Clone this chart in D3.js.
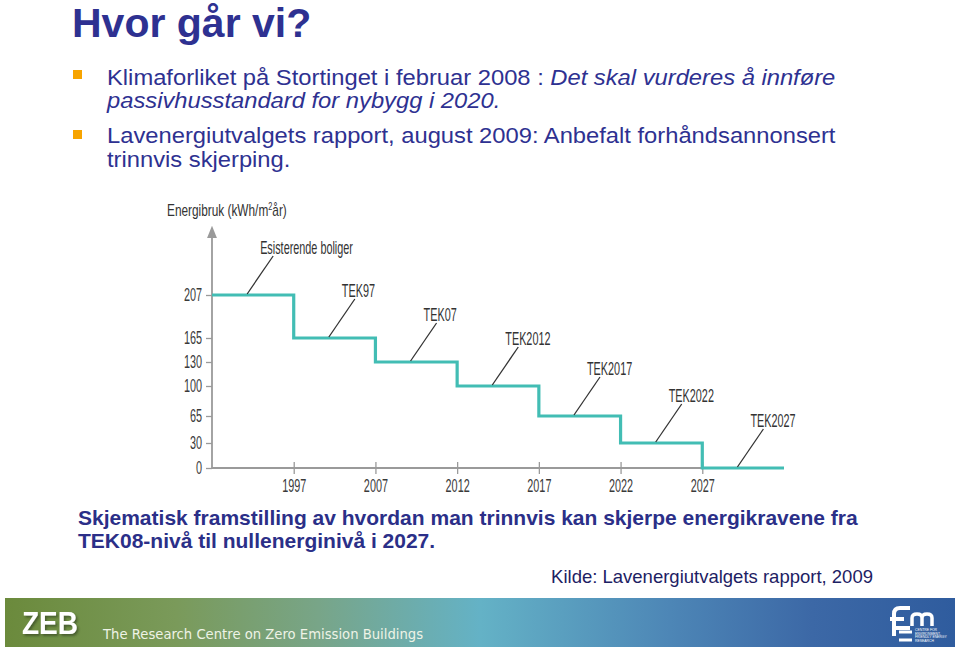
<!DOCTYPE html>
<html><head><meta charset="utf-8">
<script src="https://cdn.jsdelivr.net/npm/d3@7"></script>
<style>
html,body{margin:0;padding:0;background:#fff;}
svg{display:block;}
</style></head>
<body>
<svg id="c" width="959" height="650"></svg>
<script>
// ---- data ----
const periods = ["start", "1997", "2007", "2012", "2017", "2022", "2027", "end"];
const yearTicks = ["1997", "2007", "2012", "2017", "2022", "2027"];
const levels = [207, 165, 130, 100, 65, 30, 0];
const stepLabels = ["Esisterende boliger", "TEK97", "TEK07", "TEK2012", "TEK2017", "TEK2022", "TEK2027"];
const yTicks = [0, 30, 65, 100, 130, 165, 207];

const title = "Hvor går vi?";
const bullets = [
  [[{t:"Klimaforliket på Stortinget i februar 2008 : ", i:false},{t:"Det skal vurderes å innføre", i:true}],
   [{t:"passivhusstandard for nybygg i 2020.", i:true}]],
  [[{t:"Lavenergiutvalgets rapport, august 2009: Anbefalt forhåndsannonsert", i:false}],
   [{t:"trinnvis skjerping.", i:false}]]
];
const caption = ["Skjematisk framstilling av hvordan man trinnvis kan skjerpe energikravene fra",
                 "TEK08-nivå til nullenerginivå i 2027."];
const source = "Kilde: Lavenergiutvalgets rapport, 2009";

const svg = d3.select("#c");
const defs = svg.append("defs");
const navy = "#2e3191";
const teal = "#42bdb4";
const axisGrey = "#9a9a9a";
const arial = "'Liberation Sans',Arial,Helvetica,sans-serif";
const CX = 0.62; // horizontal compression for the condensed chart font

// ---- title & bullets ----
svg.append("text").attr("x", 72).attr("y", 37)
  .attr("font-family", arial).attr("font-weight", "bold").attr("font-size", 41)
  .attr("fill", navy).text(title);

const bulletTop = [70, 130];
const lineBase = [[85, 108], [143, 167]];
bullets.forEach((b, bi) => {
  svg.append("rect").attr("x", 73).attr("y", bulletTop[bi]).attr("width", 9).attr("height", 9)
    .attr("fill", "#f7a400");
  b.forEach((line, li) => {
    const t = svg.append("text")
      .attr("transform", `translate(107,${lineBase[bi][li]}) scale(1.08,1)`)
      .attr("font-family", arial).attr("font-size", 22).attr("fill", navy);
    line.forEach(seg => t.append("tspan").attr("font-style", seg.i ? "italic" : "normal").text(seg.t));
  });
});

// ---- chart ----
const x = d3.scalePoint().domain(periods).range([212, 784]);
const y = d3.scaleLinear().domain(yTicks).range([468, 443, 416, 386, 362, 338, 295]);

function condText(px, py, size, sx) {
  return svg.append("text")
    .attr("transform", `translate(${px},${py}) scale(${sx || CX},1)`)
    .attr("font-family", arial).attr("font-size", size).attr("fill", "#333");
}

// y-axis title
condText(167, 216, 16, 0.74).html("Energibruk (kWh/m<tspan font-size='10' dy='-6'>2</tspan><tspan dy='6'>år)</tspan>");

// y-axis arrow line
defs.append("marker").attr("id", "arr").attr("viewBox", "0 0 10 10")
  .attr("refX", 5).attr("refY", 5).attr("markerWidth", 7).attr("markerHeight", 9)
  .attr("orient", "auto-start-reverse").append("path").attr("d", "M0,1 L10,5 L0,9 z").attr("fill", axisGrey);
svg.append("line").attr("x1", 212).attr("x2", 212).attr("y1", y(0)).attr("y2", 232)
  .attr("stroke", axisGrey).attr("stroke-width", 1.8).attr("marker-end", "url(#arr)");

const yAxis = svg.append("g").attr("transform", "translate(212,0)")
  .call(d3.axisLeft(y).tickValues(yTicks).tickSize(6));
yAxis.select(".domain").remove();
yAxis.selectAll(".tick line").attr("stroke", axisGrey).attr("stroke-width", 1.3);
yAxis.selectAll(".tick text").attr("font-family", arial).attr("font-size", 17.5)
  .attr("fill", "#3a3a3a").attr("x", -10 / CX).attr("transform", `scale(${CX},1)`);

const xAxis = svg.append("g").attr("transform", `translate(0,${y(0)})`)
  .call(d3.axisBottom(x).tickValues(yearTicks).tickSize(5));
xAxis.select(".domain").attr("stroke", axisGrey).attr("stroke-width", 1.8)
  .attr("d", `M${x("start")},0H${x("end")}`);
xAxis.selectAll(".tick line").attr("stroke", axisGrey).attr("stroke-width", 1.3).attr("y1", -6).attr("y2", 6);
xAxis.selectAll(".tick text").attr("font-family", arial).attr("font-size", 17.5)
  .attr("fill", "#3a3a3a").attr("y", 12).attr("transform", `scale(${CX},1)`);

// step line
const pts = levels.map((v, i) => [x(periods[i]), y(v)]);
pts.push([x("end"), y(levels[levels.length - 1])]);
svg.append("path").datum(pts)
  .attr("d", d3.line().curve(d3.curveStepAfter))
  .attr("fill", "none").attr("stroke", teal).attr("stroke-width", 3.2);

// labels with leader lines
const step = x.step();
stepLabels.forEach((lab, i) => {
  const x0 = x(periods[i]) + step * 0.43;
  const y0 = y(levels[i]) - 1;
  const x1 = x0 + 26, y1 = y0 - 38;
  svg.append("line").attr("x1", x0).attr("y1", y0).attr("x2", x1).attr("y2", y1)
    .attr("stroke", "#333").attr("stroke-width", 1.3);
  condText(x1 - 13, y1 - 2, 17.5).text(lab);
});

// ---- caption & source ----
caption.forEach((c, i) => {
  svg.append("text").attr("x", 78).attr("y", 525 + i * 23)
    .attr("font-family", arial).attr("font-weight", "bold").attr("font-size", 21)
    .attr("fill", "#2b2f88").text(c);
});
svg.append("text").attr("x", 873).attr("y", 583).attr("text-anchor", "end")
  .attr("font-family", arial).attr("font-size", 18.5).attr("fill", "#1d2163").text(source);

// ---- footer banner ----
const grad = defs.append("linearGradient").attr("id", "fg")
  .attr("x1", "0").attr("x2", "1").attr("y1", "0").attr("y2", "0");
[[0, "#6b8a3c"], [0.18, "#7a9a5a"], [0.33, "#78a588"], [0.5, "#64b2c6"], [0.7, "#4d86b6"], [0.85, "#3c68a6"], [1, "#2f5c9e"]]
  .forEach(([o, c]) => grad.append("stop").attr("offset", o).attr("stop-color", c));
svg.append("rect").attr("x", 5).attr("y", 598).attr("width", 950).attr("height", 49).attr("fill", "url(#fg)");

const shadow = defs.append("filter").attr("id", "sh").attr("x", "-20%").attr("y", "-20%")
  .attr("width", "150%").attr("height", "150%");
shadow.append("feDropShadow").attr("dx", 2).attr("dy", 2).attr("stdDeviation", 1.2)
  .attr("flood-color", "#2a3a1a").attr("flood-opacity", 0.6);
svg.append("text").attr("transform", "translate(22,634) scale(0.875,1)")
  .attr("font-family", arial).attr("font-weight", "bold").attr("font-size", 32)
  .attr("fill", "#ffffff").attr("filter", "url(#sh)").text("ZEB");
svg.append("text").attr("x", 103).attr("y", 639)
  .attr("font-family", "Verdana,'DejaVu Sans',sans-serif").attr("font-size", 13.2)
  .attr("fill", "#eef3e6").text("The Research Centre on Zero Emission Buildings");

// fme logo (approximation)
const lg = svg.append("g").attr("transform", "translate(890,606)");
lg.append("path").attr("d", "M4,30 V8 Q4,2 10,2 H20 M0,13 H14 M4,22 H20")
  .attr("fill", "none").attr("stroke", "#fff").attr("stroke-width", 4);
lg.append("path").attr("d", "M22,20 V12 Q22,8 27,8 Q32,8 32,12 V20 M32,12 Q32,8 37,8 Q42,8 42,12 V20")
  .attr("fill", "none").attr("stroke", "#fff").attr("stroke-width", 3.5);
lg.append("path").attr("d", "M9,26 H22 M9,34 H22").attr("stroke", "#fff").attr("stroke-width", 3);
["CENTRE FOR", "ENVIRONMENT-", "FRIENDLY ENERGY", "RESEARCH"].forEach((t, i) => {
  lg.append("text").attr("x", 25).attr("y", 25 + i * 3.6).attr("font-family", arial)
    .attr("font-size", 3.4).attr("fill", "#fff").text(t);
});
</script>
</body></html>
